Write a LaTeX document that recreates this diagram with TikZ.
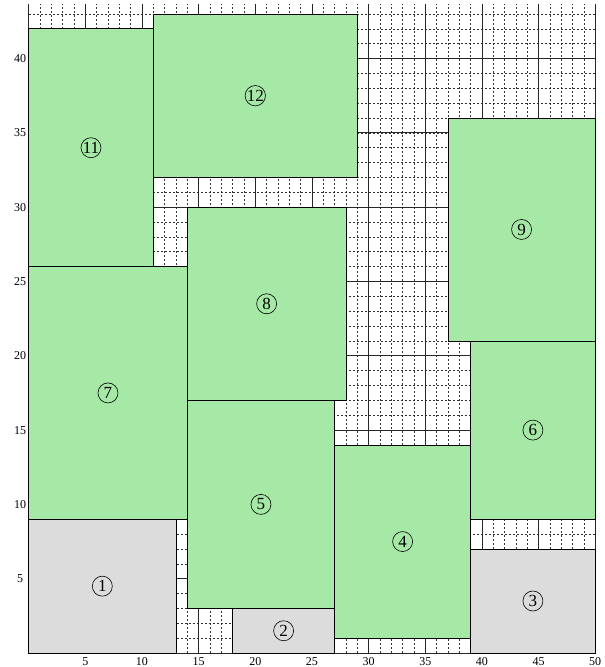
\documentclass[tikz,border=0pt]{standalone}
\usepackage{fontspec}
\setmainfont{Liberation Serif}
\begin{document}
\begin{tikzpicture}[x=11.33pt,y=14.86pt,
  minor/.style={black!80,line width=0.6pt,dash pattern=on 2pt off 2pt},
  major/.style={black!85,line width=0.8pt},
  greenbox/.style={fill=boxgreen,draw=black,line width=0.8pt},
  graybox/.style={fill=boxgray,draw=black,line width=0.8pt},
  lab/.style={circle,draw=black,line width=0.6pt,minimum size=20pt,inner sep=0pt,font=\fontsize{17}{17}\selectfont},
  tick/.style={font=\fontsize{12}{12}\selectfont,inner sep=0pt}]
\definecolor{boxgreen}{HTML}{A6E8A6}
\definecolor{boxgray}{HTML}{DCDCDC}
\useasboundingbox (-2.53,-0.94) rectangle (50.78,43.94);
% minor grid
\foreach \x in {1,...,49} \draw[minor] (\x,0) -- (\x,43.7);
\foreach \y in {1,...,43} \draw[minor] (0,\y) -- (50,\y);
% major grid
\foreach \x in {0,5,...,50} \draw[major] (\x,0) -- (\x,43.7);
\foreach \y in {0,5,...,40} \draw[major] (0,\y) -- (50,\y);
% boxes
\draw[graybox] (0,0) rectangle (13,9);
\draw[graybox] (18,0) rectangle (27,3);
\draw[graybox] (39,0) rectangle (50,7);
\draw[greenbox] (27,1) rectangle (39,14);
\draw[greenbox] (14,3) rectangle (27,17);
\draw[greenbox] (39,9) rectangle (50,21);
\draw[greenbox] (0,9) rectangle (14,26);
\draw[greenbox] (14,17) rectangle (28,30);
\draw[greenbox] (37,21) rectangle (50,36);
\draw[greenbox] (0,26) rectangle (11,42);
\draw[greenbox] (11,32) rectangle (29,43);
% labels
\node[lab] (b1) at (6.5,4.5) {1};
\node[lab] (b2) at (22.5,1.5) {2};
\node[lab] (b3) at (44.5,3.5) {3};
\node[lab] (b4) at (33,7.5) {4};
\node[lab] (b5) at (20.5,10) {5};
\node[lab] (b6) at (44.5,15) {6};
\node[lab] (b7) at (7,17.5) {7};
\node[lab] (b8) at (21,23.5) {8};
\node[lab] (b9) at (43.5,28.5) {9};
\node[lab] (b11) at (5.5,34) {11};
\node[lab] (b12) at (20,37.5) {12};
% ticks
\foreach \v in {5,10,...,50} \node[tick] (tx\v) at (\v,-0.55) {\v};
\foreach \v in {5,10,...,40} \node[tick] (ty\v) at (-0.75,\v) {\v};
\end{tikzpicture}
\end{document}
